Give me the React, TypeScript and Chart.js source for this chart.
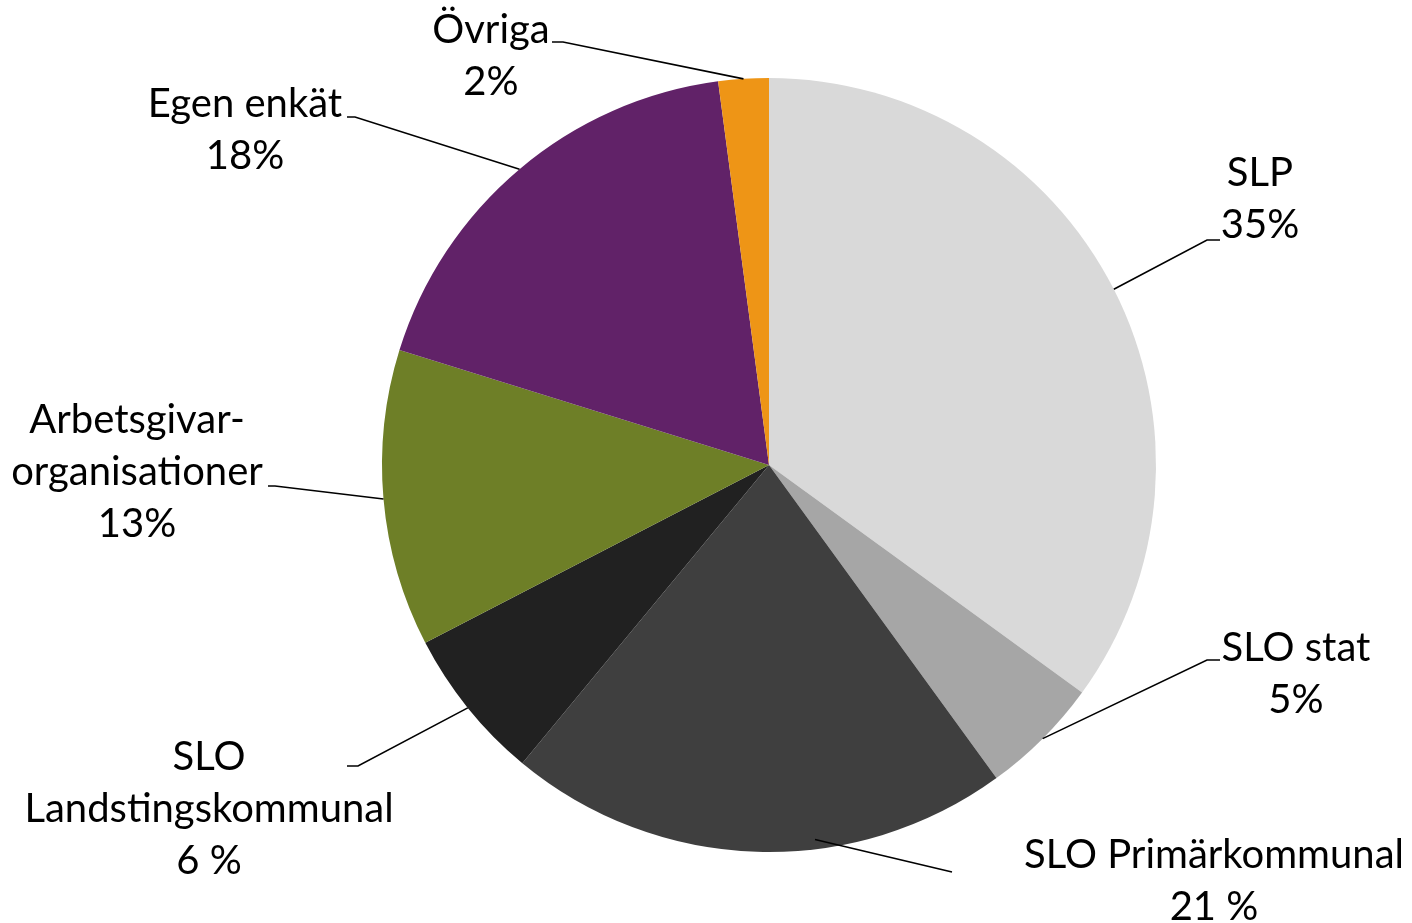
import React, { useEffect, useRef } from "react";
import { Chart, registerables } from "chart.js";

Chart.register(...registerables);

const categories = [
  "SLP",
  "SLO stat",
  "SLO Primärkommunal",
  "SLO Landstingskommunal",
  "Arbetsgivarorganisationer",
  "Egen enkät",
  "Övriga",
];
const values = [35, 5, 21, 6.4, 12.4, 18.1, 2.1];
const labelLines = [
  ["SLP", "35%"],
  ["SLO stat", "5%"],
  ["SLO Primärkommunal", "21 %"],
  ["SLO", "Landstingskommunal", "6 %"],
  ["Arbetsgivar-", "organisationer", "13%"],
  ["Egen enkät", "18%"],
  ["Övriga", "2%"],
];
const colors = ["#D9D9D9", "#A6A6A6", "#3F3F3F", "#212121", "#6E7F27", "#612268", "#EE9516"];

// label layout (canvas px): text center x, first line center y, leader elbow, tail end,
// optional anchor angle override (deg from 12 o'clock) and radius fraction
const LABEL_LAYOUT = [
  { tx: 1260, ty: 173, elbow: [1207, 240], tail: [1220, 240] },
  { tx: 1296, ty: 648, elbow: [1207, 660], tail: [1220, 660] },
  { tx: 1214, ty: 855, elbow: [952, 872], tail: [952, 872], angle: 173, rf: 0.975 },
  { tx: 209, ty: 757, elbow: [358, 766], tail: [347, 766] },
  { tx: 137, ty: 420, elbow: [275, 486], tail: [268, 486] },
  { tx: 245, ty: 104, elbow: [355, 117], tail: [347, 117] },
  { tx: 491, ty: 30, elbow: [563, 42], tail: [552, 42] },
];

const FONT = "40px Lato, 'Noto Sans', sans-serif";
const LINE_H = 52;

const labelPlugin = {
  id: "pieLabels",
  afterDraw(chart: any) {
    const ctx = chart.ctx;
    const meta = chart.getDatasetMeta(0);
    ctx.save();
    meta.data.forEach((arc: any, i: number) => {
      const lay = LABEL_LAYOUT[i];
      const { x, y, outerRadius, startAngle, endAngle } = arc.getProps(
        ["x", "y", "outerRadius", "startAngle", "endAngle"],
        true
      );
      let a = (startAngle + endAngle) / 2;
      let r = outerRadius;
      if (lay.angle !== undefined) {
        a = ((lay.angle - 90) * Math.PI) / 180;
        r = outerRadius * (lay.rf ?? 1);
      }
      const sx = x + Math.cos(a) * r;
      const sy = y + Math.sin(a) * r;
      ctx.strokeStyle = "#000";
      ctx.lineWidth = 1.6;
      ctx.beginPath();
      ctx.moveTo(sx, sy);
      ctx.lineTo(lay.elbow[0], lay.elbow[1]);
      ctx.lineTo(lay.tail[0], lay.tail[1]);
      ctx.stroke();

      ctx.fillStyle = "#000";
      ctx.font = FONT;
      ctx.textAlign = "center";
      ctx.textBaseline = "middle";
      labelLines[i].forEach((t, j) => {
        ctx.fillText(t, lay.tx, lay.ty + j * LINE_H);
      });
    });
    ctx.restore();
  },
};

export default function App() {
  const ref = useRef<HTMLCanvasElement | null>(null);
  useEffect(() => {
    if (!ref.current) return;
    const chart = new Chart(ref.current, {
      type: "pie",
      data: {
        labels: categories,
        datasets: [
          {
            data: values,
            backgroundColor: colors,
            borderWidth: 0,
          },
        ],
      },
      options: {
        animation: false,
        responsive: false,
        maintainAspectRatio: false,
        layout: { padding: { top: 78, bottom: 71, left: 126, right: 0 } },
        plugins: {
          legend: { display: false },
          tooltip: { enabled: false },
        },
      },
      plugins: [labelPlugin],
    });
    return () => chart.destroy();
  }, []);
  return (
    <div style={{ position: "fixed", left: 0, top: 0, width: 1412, height: 923, background: "#fff" }}>
      <canvas ref={ref} width={1412} height={923} style={{ width: 1412, height: 923, display: "block" }} />
    </div>
  );
}
